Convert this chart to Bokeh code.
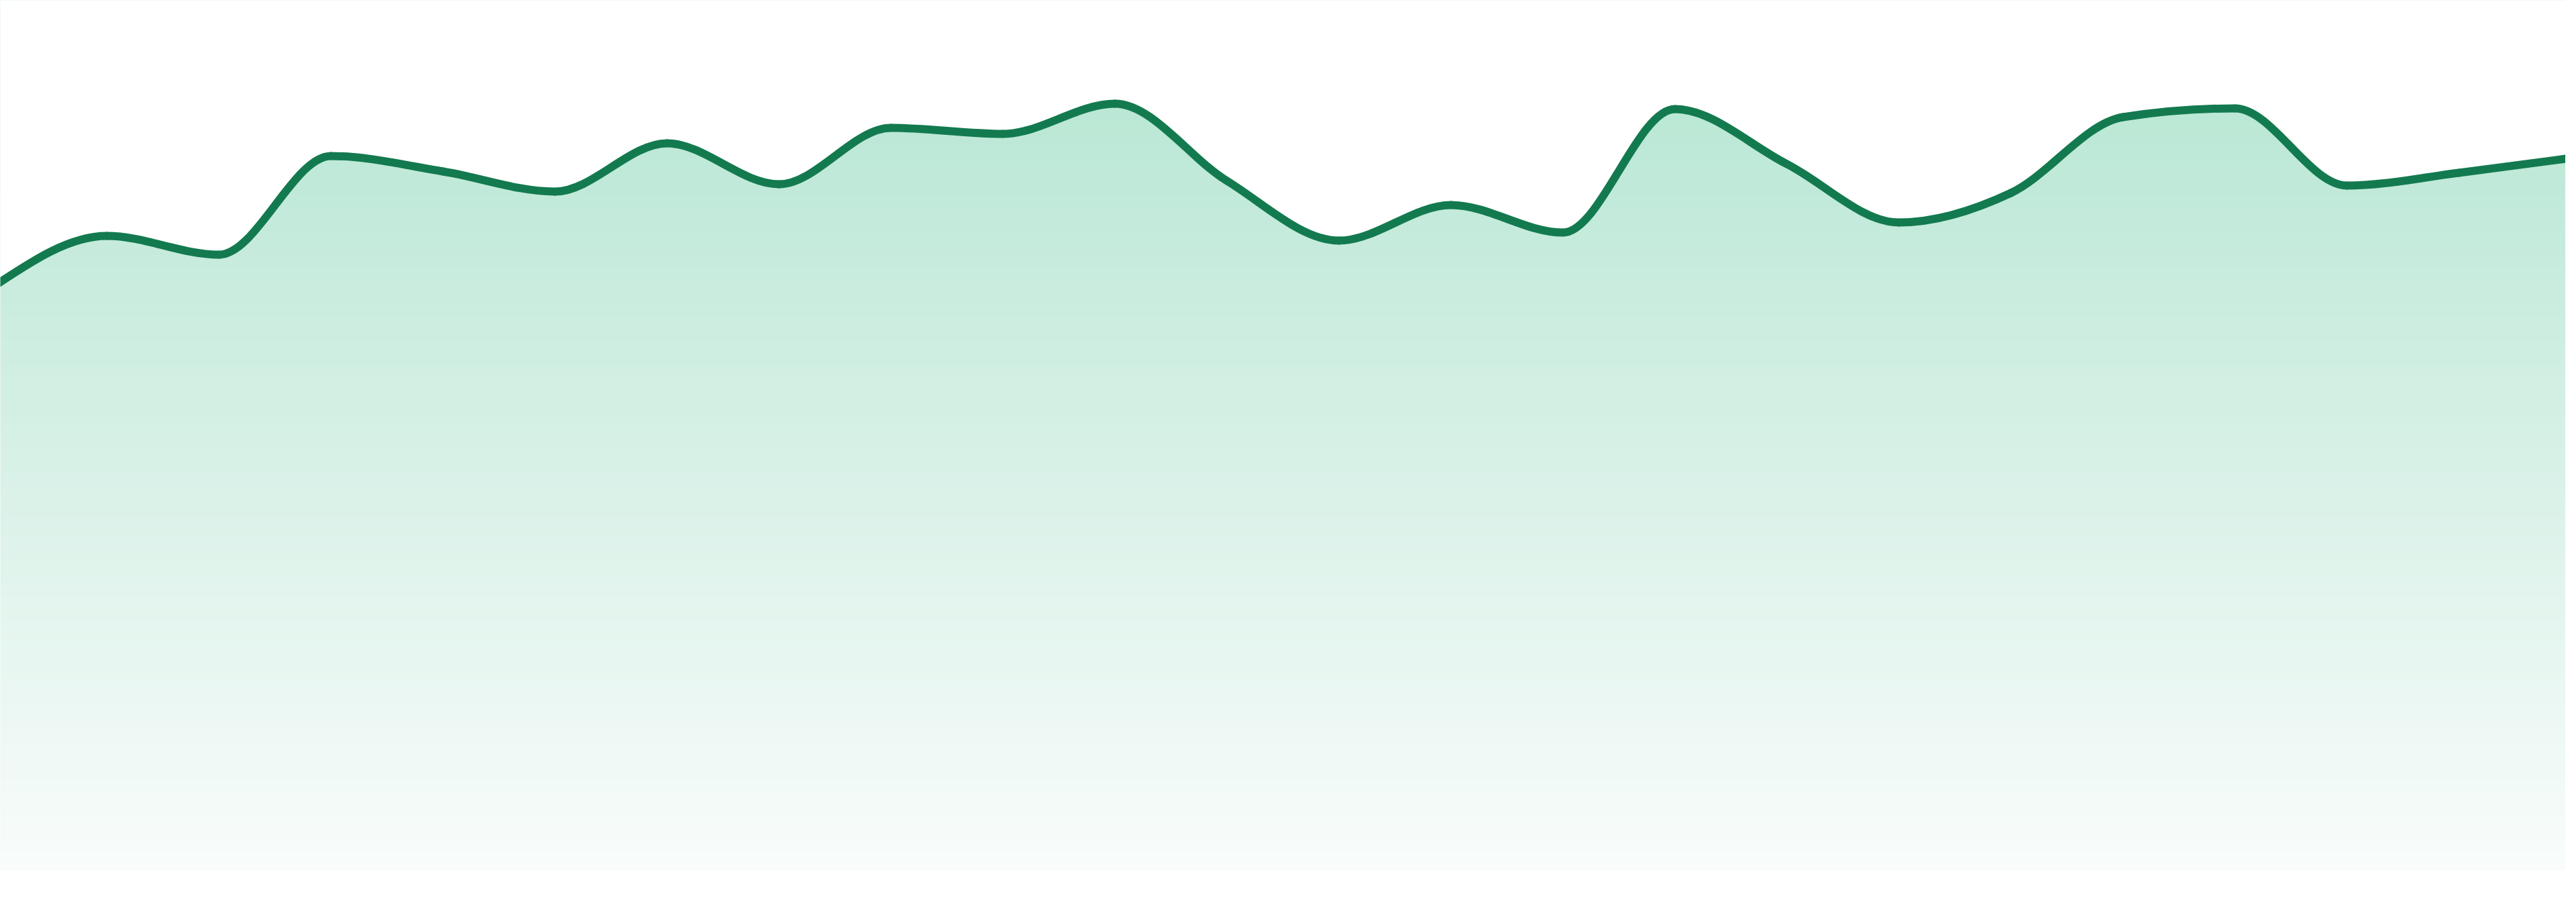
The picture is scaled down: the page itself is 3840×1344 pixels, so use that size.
import numpy as np
from bokeh.plotting import figure
from bokeh.embed import file_html
from bokeh.resources import INLINE

# ---- data (24 evenly spaced observations) ----
x_idx = list(range(24))
values = [87.2, 94.6, 91.8, 106.5, 104.2, 101.2, 108.4, 102.3, 110.7, 109.8,
          114.3, 102.8, 93.9, 99.2, 95.1, 113.5, 105.3, 96.6, 101.0, 112.3,
          113.6, 102.1, 104.0, 106.2]

LINE_COLOR = "#137a4f"
TOP_RGB = (186, 231, 213)
BOTTOM_RGB = (249, 252, 251)
GRAD_TOP_VALUE = 114.5

W, H = 3824, 1328
PX_PER_IDX = 3840 / 23.0

p = figure(width=W, height=H, output_backend="svg", toolbar_location=None,
           x_range=(8 / PX_PER_IDX, 3832 / PX_PER_IDX),
           y_range=(-3.1, 129.7), min_border=0)
p.axis.visible = False
p.grid.visible = False
p.outline_line_color = None
p.background_fill_color = "white"
p.border_fill_color = "white"

# ---- monotone-x cubic (d3 curveMonotoneX) tangents ----
xs = np.array(x_idx, dtype=float)
ys = np.array(values, dtype=float)
n = len(xs)
h = np.diff(xs)
s = np.diff(ys) / h
t = np.zeros(n)
for i in range(1, n - 1):
    h0, h1 = h[i - 1], h[i]
    s0, s1 = s[i - 1], s[i]
    pp = (s0 * h1 + s1 * h0) / (h0 + h1)
    t[i] = (np.sign(s0) + np.sign(s1)) * min(abs(s0), abs(s1), 0.5 * abs(pp))
t[0] = (3 * s[0] - t[1]) / 2
t[-1] = (3 * s[-1] - t[-2]) / 2

dx = h / 3.0
x0, y0 = xs[:-1], ys[:-1]
x1, y1 = xs[1:], ys[1:]
cx0, cy0 = x0 + dx, y0 + dx * t[:-1]
cx1, cy1 = x1 - dx, y1 - dx * t[1:]

# rendering path of the spline (for the fill mask)
u = np.linspace(0, 1, 60)[:, None]
bx = ((1 - u) ** 3) * x0 + 3 * ((1 - u) ** 2) * u * cx0 + 3 * (1 - u) * u ** 2 * cx1 + u ** 3 * x1
by = ((1 - u) ** 3) * y0 + 3 * ((1 - u) ** 2) * u * cy0 + 3 * (1 - u) * u ** 2 * cy1 + u ** 3 * y1
px = bx.T.ravel()
py = by.T.ravel()

# ---- vertical gradient fill (bottom row first) ----
N = 600
frac = np.linspace(0, 1, N)  # 0 bottom -> 1 top
img = np.zeros((N, 1), dtype=np.uint32)
view = img.view(dtype=np.uint8).reshape((N, 1, 4))
for k in range(3):
    view[:, 0, k] = np.round(BOTTOM_RGB[k] + (TOP_RGB[k] - BOTTOM_RGB[k]) * frac).astype(np.uint8)
view[:, 0, 3] = 255
p.image_rgba(image=[img], x=0, y=0, dw=23, dh=GRAD_TOP_VALUE)
p.quad(left=0, right=23, bottom=GRAD_TOP_VALUE, top=130.5,
       fill_color="#%02x%02x%02x" % TOP_RGB, line_color=None)

# white mask above the curve
p.varea(x=px, y1=py, y2=np.full_like(py, 131.0), fill_color="white")

# the line itself
p.bezier(x0=x0, y0=y0, x1=x1, y1=y1, cx0=cx0, cy0=cy0, cx1=cx1, cy1=cy1,
         line_color=LINE_COLOR, line_width=12, line_cap="round")

open("out.html", "w").write(file_html(p, INLINE))
